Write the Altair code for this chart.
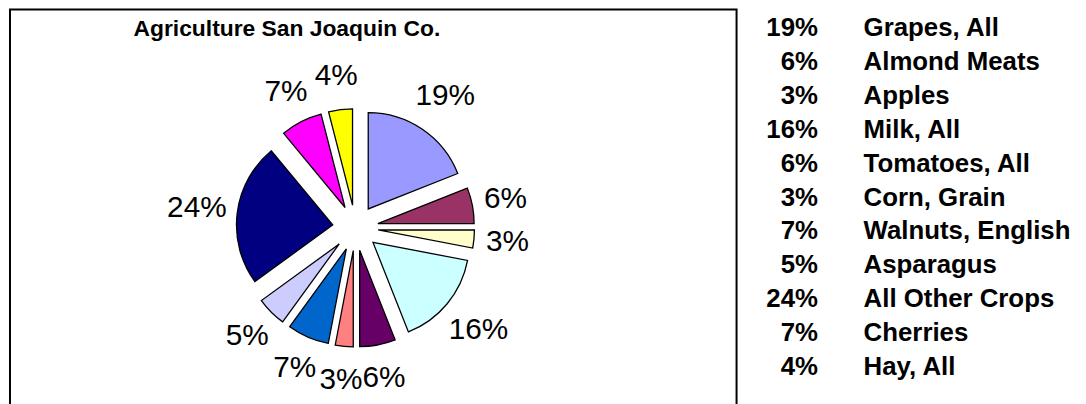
import altair as alt
import pandas as pd

categories = ["Grapes, All", "Almond Meats", "Apples", "Milk, All", "Tomatoes, All",
              "Corn, Grain", "Walnuts, English", "Asparagus", "All Other Crops",
              "Cherries", "Hay, All"]
percents = [19, 6, 3, 16, 6, 3, 7, 5, 24, 7, 4]
colors = ["#9999FF", "#993366", "#FFFFCC", "#CCFFFF", "#660066", "#FF8080",
          "#0066CC", "#CCCCFF", "#000080", "#FF00FF", "#FFFF00"]
title_text = "Agriculture San Joaquin Co."

FONT = "Liberation Sans"
CX, CY = 350, 220      # pie centre (chart coords)
R = 97                 # pie radius
EXPLODE = 23           # slice offset
LABEL_R = 154          # label distance (plus extra for wider labels)

df = pd.DataFrame({"cat": categories, "v": percents, "order": range(len(categories))})

base = alt.Chart(df).transform_window(
    cum="sum(v)", sort=[alt.SortField("order")], frame=[None, 0]
).transform_joinaggregate(total="sum(v)").transform_calculate(
    t0="2*PI*(datum.cum - datum.v)/datum.total",
    t1="2*PI*datum.cum/datum.total",
    lab="datum.v + '%'",
).transform_calculate(
    mid="(datum.t0 + datum.t1)/2",
    lr=f"{LABEL_R} + 7*(length(datum.lab) - 2)",
).transform_calculate(
    px=f"{CX} + {EXPLODE}*sin(datum.mid)",
    py=f"{CY} - {EXPLODE}*cos(datum.mid)",
    lx=f"{CX} + datum.lr*sin(datum.mid)",
    ly=f"{CY} - datum.lr*cos(datum.mid)",
)

pie = base.mark_arc(outerRadius=R, stroke="black", strokeWidth=1.3).encode(
    theta=alt.Theta("t0:Q", scale=None),
    theta2="t1:Q",
    x=alt.X("px:Q", scale=None),
    y=alt.Y("py:Q", scale=None),
    color=alt.Color("cat:N", scale=alt.Scale(domain=categories, range=colors), legend=None),
)

labels = base.mark_text(font=FONT, fontSize=30, color="black", align="center", baseline="middle").encode(
    x=alt.X("lx:Q", scale=None),
    y=alt.Y("ly:Q", scale=None),
    text="lab:N",
)

leg = alt.Chart(df).transform_calculate(lab="datum.v + '%'")
leg_y = alt.Y("cat:N", sort=categories, axis=None,
              scale=alt.Scale(type="point", range=[19, 360], padding=0))
leg_pct = leg.mark_text(font=FONT, fontSize=26, fontWeight="bold", align="right", baseline="middle").encode(
    x=alt.value(816), y=leg_y, text="lab:N")
leg_name = leg.mark_text(font=FONT, fontSize=26, fontWeight="bold", align="left", baseline="middle").encode(
    x=alt.value(862), y=leg_y, text="cat:N")

title = alt.Chart(pd.DataFrame({"t": [title_text]})).mark_text(
    font=FONT, fontSize=23, fontWeight="bold", align="center", baseline="middle"
).encode(x=alt.value(281), y=alt.value(20), text="t:N")

frame = alt.Chart(pd.DataFrame({"t": [title_text]})).mark_rect(
    fill="transparent", stroke="black", strokeWidth=2
).encode(x=alt.value(2), x2=alt.value(734), y=alt.value(0), y2=alt.value(420))

chart = alt.layer(frame, pie, labels, leg_pct, leg_name, title).properties(
    width=1078, height=396, padding=0,
    autosize=alt.AutoSizeParams(type="none"),
).configure_view(stroke=None).resolve_scale(y="independent")

chart.save("out.html", embed_options={"renderer": "svg", "actions": False})
